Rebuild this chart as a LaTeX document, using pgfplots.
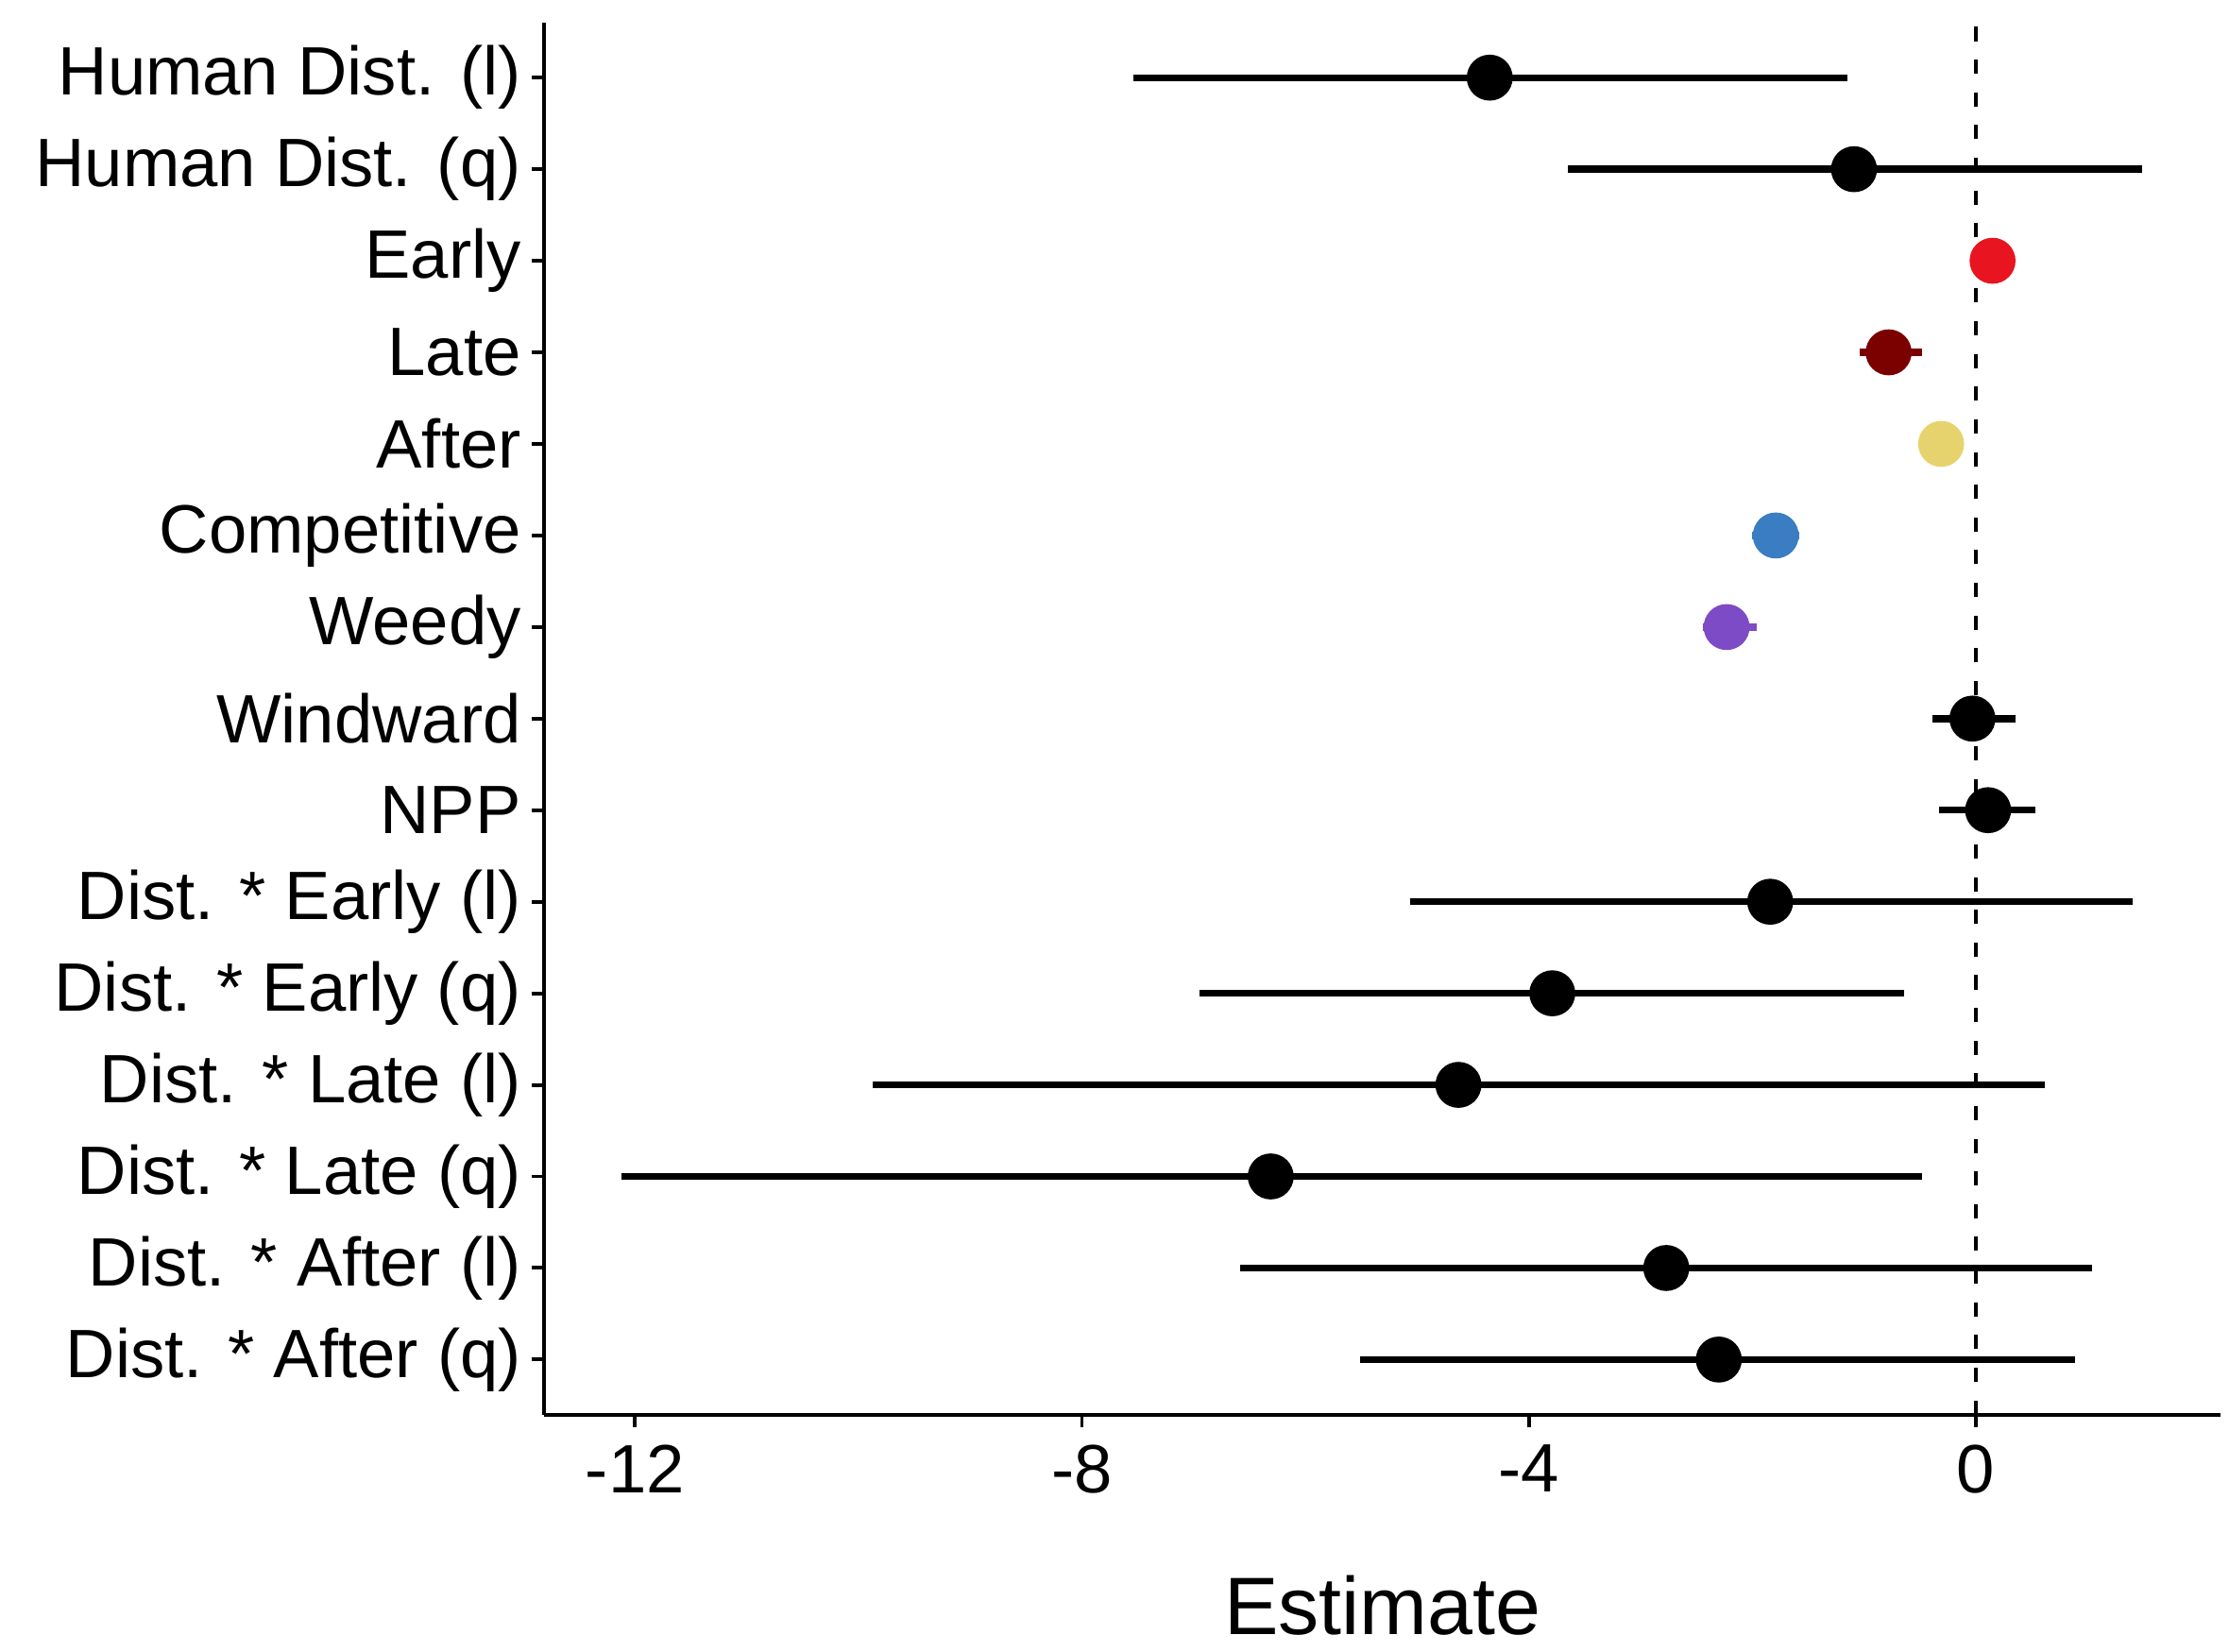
\documentclass[border=0pt]{standalone}
\usepackage{pgfplots}
\pgfplotsset{compat=1.18}
\usepackage{pgfplotstable}
\usepackage{fontspec}
\setmainfont{Liberation Sans}

\definecolor{cEarly}{HTML}{E8141F}
\definecolor{cLate}{HTML}{7B0000}
\definecolor{cAfter}{HTML}{E6D36E}
\definecolor{cComp}{HTML}{3A7DC2}
\definecolor{cWeedy}{HTML}{7D4BC5}

% y = 16 - row, so the first term sits on top
\pgfplotstableread{
y  est    lo      hi
15 -4.35  -7.54  -1.15
14 -1.09  -3.65   1.49
8  -0.03  -0.39   0.36
7   0.11  -0.33   0.53
6  -1.84  -5.06   1.40
5  -3.79  -6.95  -0.64
4  -4.63  -9.87   0.62
3  -6.31 -12.12  -0.48
2  -2.77  -6.58   1.04
1  -2.30  -5.51   0.89
}\blacktab

\pgfplotstableread{
y  est    lo      hi
13  0.15   0.00   0.30
}\earlytab
\pgfplotstableread{
y  est    lo      hi
12 -0.78  -1.04  -0.48
}\latetab
\pgfplotstableread{
y  est    lo      hi
11 -0.31  -0.46  -0.16
}\aftertab
\pgfplotstableread{
y  est    lo      hi
10 -1.79  -2.00  -1.58
}\comptab
\pgfplotstableread{
y  est    lo      hi
9  -2.23  -2.44  -1.96
}\weedytab

\newcommand{\ci}[2]{%
  \addplot[only marks, mark=*, mark size=4.4pt, color=#1,
    error bars/.cd, x dir=both, x explicit, error mark=none,
    error bar style={line width=1.4pt, color=#1}]
    table[x=est, y=y,
      x error plus expr=\thisrow{hi}-\thisrow{est},
      x error minus expr=\thisrow{est}-\thisrow{lo}] {#2};}

\begin{document}
\begin{tikzpicture}
\begin{axis}[
    scale only axis,
    width=11.79cm, height=9.79cm,
    xmin=-12.81, xmax=2.19,
    ymin=0.4, ymax=15.6,
    axis lines*=left,
    axis line style={line width=0.75pt},
    tick style={line width=0.75pt, black},
    tick align=outside,
    major tick length=0.09cm,
    xtick={-12,-8,-4,0},
    xticklabels={-12,-8,-4,0},
    ytick={1,...,15},
    yticklabels={Dist. * After (q), Dist. * After (l), Dist. * Late (q),
      Dist. * Late (l), Dist. * Early (q), Dist. * Early (l), NPP, Windward,
      Weedy, Competitive, After, Late, Early, Human Dist. (q), Human Dist. (l)},
    ticklabel style={font=\fontsize{13.7}{16}\selectfont},
    yticklabel style={xshift=1.4pt},
    xlabel={Estimate},
    xlabel style={font=\fontsize{16.3}{19}\selectfont,
      at={(axis description cs:0.5,0)}, anchor=center, yshift=-1.34cm},
    clip=false,
]
    % reference line at zero
    \addplot[black, line width=0.8pt, dash pattern=on 0.1cm off 0.13cm]
      coordinates {(0,0.4) (0,15.6)};

    \ci{black}{\blacktab}
    \ci{cEarly}{\earlytab}
    \ci{cLate}{\latetab}
    \ci{cAfter}{\aftertab}
    \ci{cComp}{\comptab}
    \ci{cWeedy}{\weedytab}
\end{axis}
\pgfresetboundingbox
\path (current axis.south west) ++(-3.83cm,-1.67cm) coordinate (bl);
\path (current axis.north east) ++(0.06cm,0.16cm) coordinate (tr);
\path[use as bounding box] (bl) rectangle (tr);
\end{tikzpicture}
\end{document}
